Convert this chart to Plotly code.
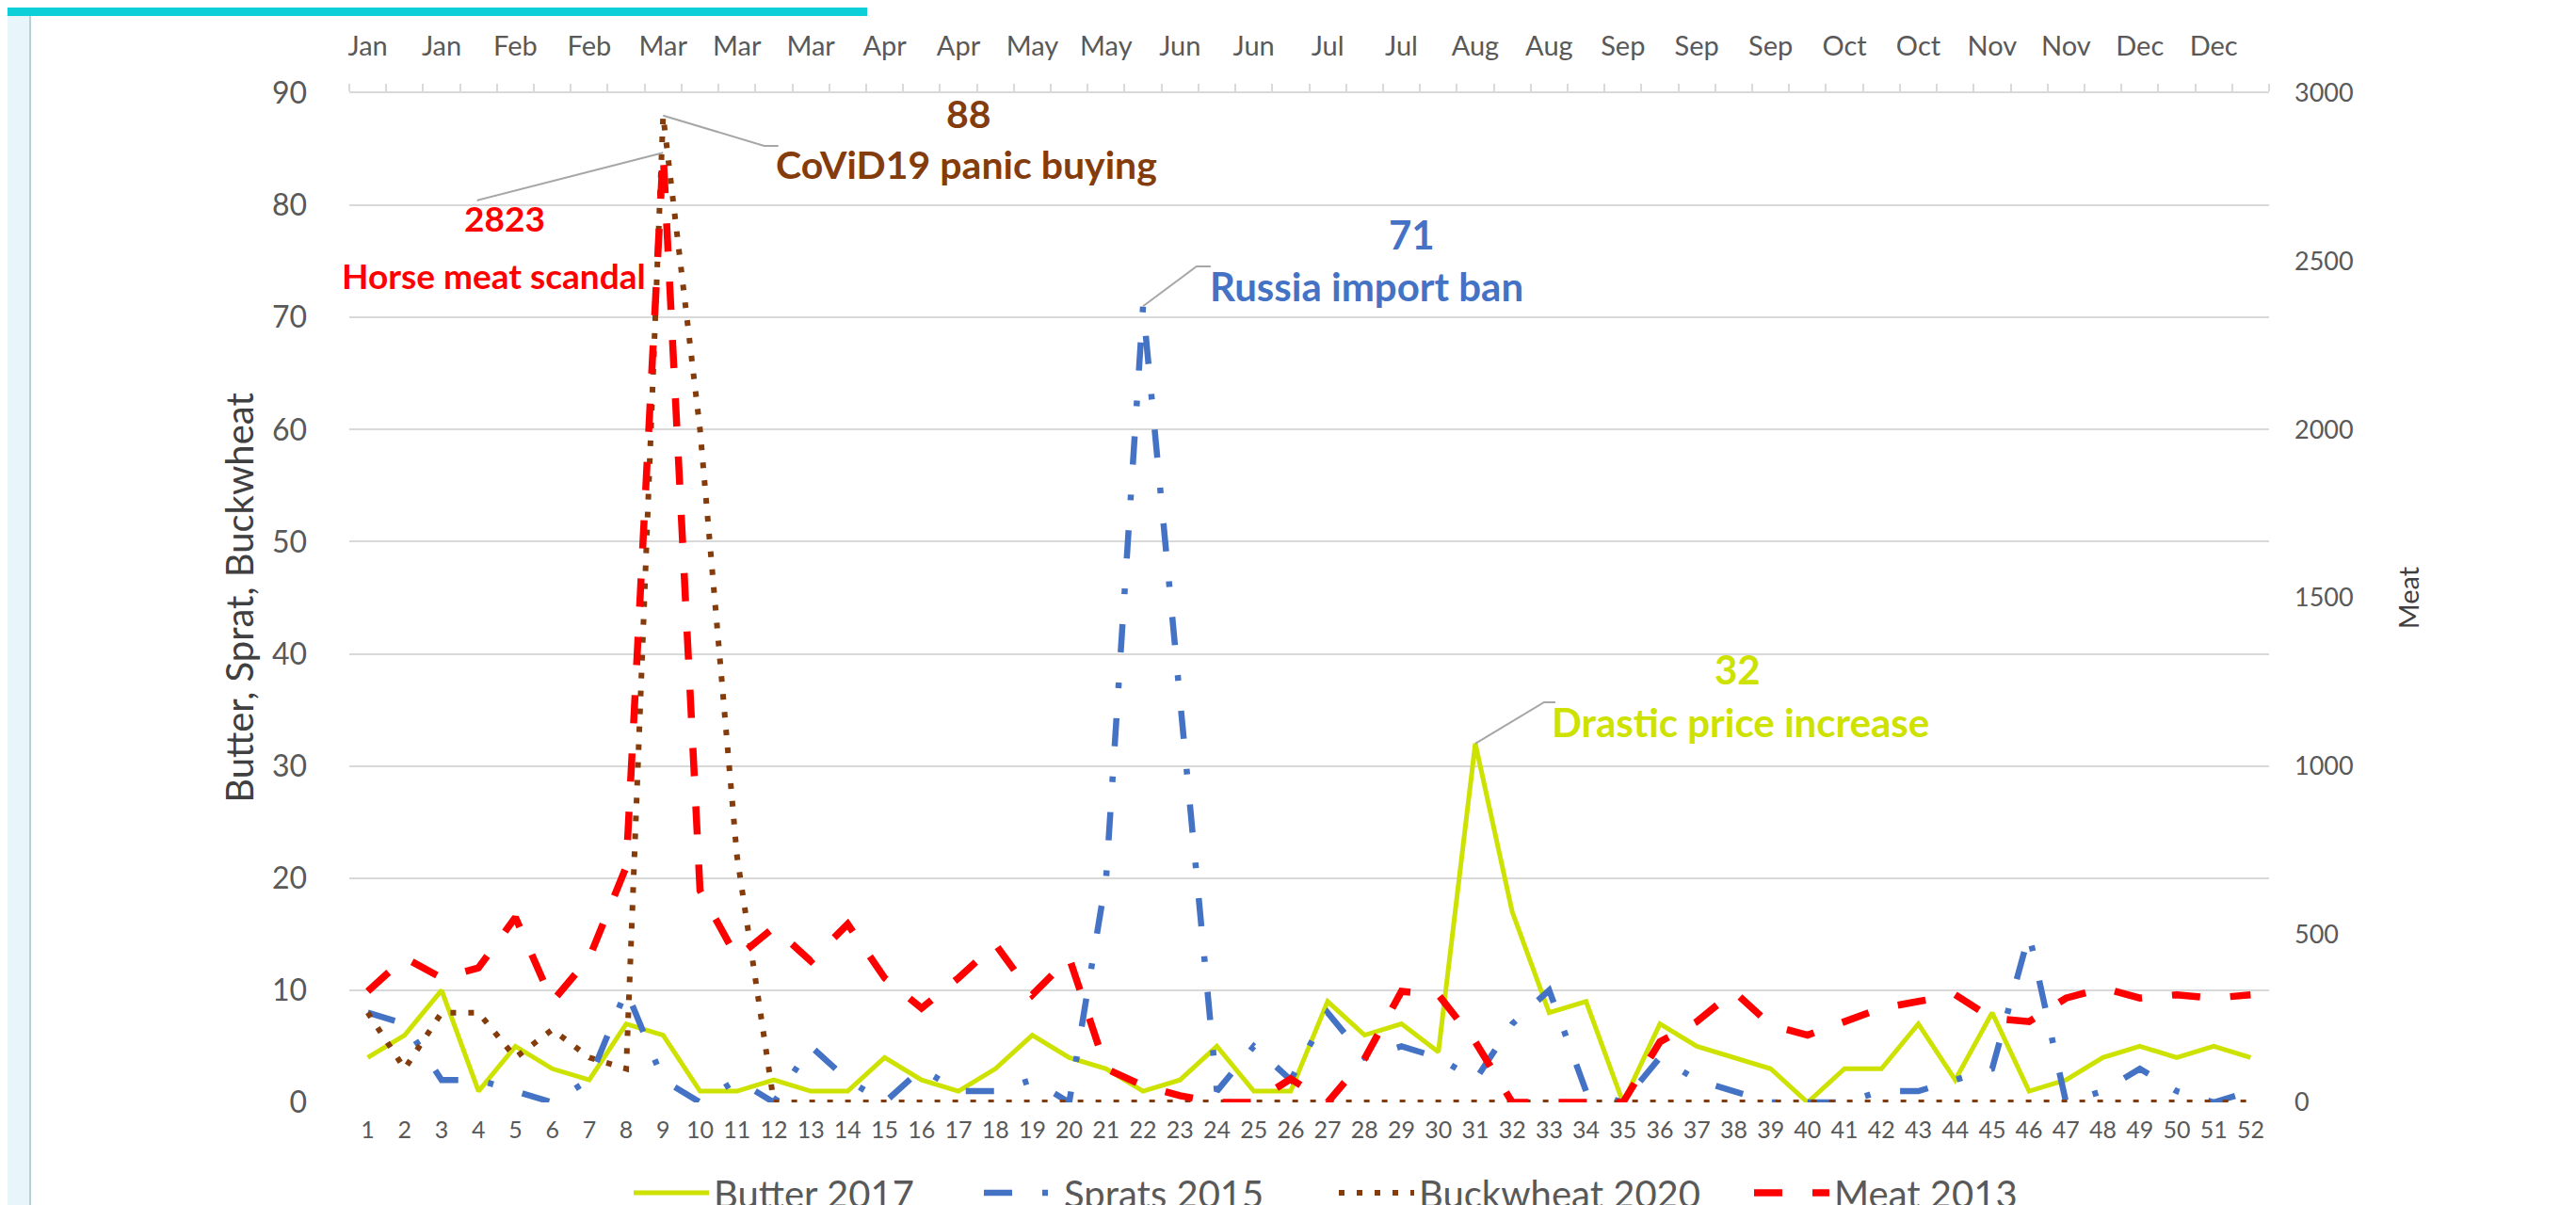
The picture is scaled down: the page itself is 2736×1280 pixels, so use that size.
import plotly.graph_objects as go

# ---------------- data ----------------
weeks = list(range(1, 53))
month_labels = ["Jan", "Jan", "Feb", "Feb", "Mar", "Mar", "Mar", "Apr", "Apr", "May", "May", "Jun", "Jun",
                "Jul", "Jul", "Aug", "Aug", "Sep", "Sep", "Sep", "Oct", "Oct", "Nov", "Nov", "Dec", "Dec"]
month_weeks = [1, 3, 5, 7, 9, 11, 13, 15, 17, 19, 21, 23, 25, 27, 29, 31, 33, 35, 37, 39, 41, 43, 45, 47, 49, 51]

butter_2017 = [4, 6, 10, 1, 5, 3, 2, 7, 6, 1, 1, 2, 1, 1, 4, 2, 1, 3, 6, 4,
               3, 1, 2, 5, 1, 1, 9, 6, 7, 4.5, 32, 17, 8, 9, 0, 7, 5, 4, 3, 0,
               3, 3, 7, 2, 8, 1, 2, 4, 5, 4, 5, 4]
sprats_2015 = [8, 7, 2, 2, 1, 0, 2, 10, 2, 0, 2, 0, 5, 2, 0, 3, 1, 1, 2, 0,
               20, 71, 36, 1, 5, 2, 8, 4, 5, 4, 2, 7, 10, 1, 0, 4, 2, 1, 0, 0,
               0, 1, 1, 2, 3, 15, 0, 1, 3, 1, 0, 1]
buckwheat_2020 = [8, 3, 8, 8, 4, 6.5, 4, 3, 88, 60, 22, 0, 0, 0, 0, 0, 0, 0, 0, 0,
                  0, 0, 0, 0, 0, 0, 0, 0, 0, 0, 0, 0, 0, 0, 0, 0, 0, 0, 0, 0,
                  0, 0, 0, 0, 0, 0, 0, 0, 0, 0, 0, 0]
meat_2013 = [330, 430, 370, 400, 550, 300, 430, 700, 2823, 630, 430, 520, 420, 530, 370, 280, 370, 470, 320, 430,
             100, 50, 20, 0, 0, 70, 0, 130, 330, 320, 180, 0, 0, 0, 0, 180, 240, 330, 230, 200,
             240, 280, 300, 320, 250, 240, 310, 340, 310, 320, 310, 320]

events = {
    "Meat 2013": "Horse meat scandal",
    "Buckwheat 2020": "CoViD19 panic buying",
    "Sprats 2015": "Russia import ban",
    "Butter 2017": "Drastic price increase",
}

# ---------------- style ----------------
W, H = 2736, 1280
L, R, T, B = 363, 334, 91, 117
PW, PH = W - L - R, H - T - B

LIME = "#cde200"
BLUE = "#4472c4"
BROWN = "#843c0c"
RED = "#ff0000"
GRID = "#d9d9d9"
GRAY = "#595959"
DARK = "#404040"
LEAD = "#a6a6a6"
FONT = "Lato, Liberation Sans, sans-serif"


def px_x(X):
    return (X - L) / PW


def px_y(Y):
    return (H - B - Y) / PH


def wk(X):  # pixel -> week coordinate
    return 1 + (X - 383) / 39.2


def lv(Y):  # pixel -> left-axis value
    return (1163 - Y) / 11.91


fig = go.Figure()
fig.add_trace(go.Scatter(x=weeks, y=butter_2017, name="Butter 2017", mode="lines", legendwidth=277,
                         line=dict(color=LIME, width=5)))
fig.add_trace(go.Scatter(x=weeks, y=sprats_2015, name="Sprats 2015", mode="lines", legendwidth=282,
                         line=dict(color=BLUE, width=6.5, dash="30px,32px,6px,32px")))
fig.add_trace(go.Scatter(x=weeks, y=buckwheat_2020, name="Buckwheat 2020", mode="lines", legendwidth=346,
                         line=dict(color=BROWN, width=6, dash="6px,13px")))
fig.add_trace(go.Scatter(x=weeks, y=meat_2013, name="Meat 2013", mode="lines", yaxis="y2", legendwidth=230,
                         line=dict(color=RED, width=7.5, dash="30px,32px")))
# invisible carriers so the two top (month / week-boundary) axes are drawn
for ax in ("x2", "x3"):
    fig.add_trace(go.Scatter(x=weeks, y=butter_2017, xaxis=ax, yaxis="y", mode="lines",
                             line=dict(width=0), opacity=0, showlegend=False, hoverinfo="skip"))

shapes = []
annotations = []

# decorations of the page
shapes.append(dict(type="rect", xref="paper", yref="paper", x0=px_x(0), x1=px_x(913),
                   y0=px_y(9), y1=px_y(0), fillcolor="#0ccfd8", line=dict(width=0), layer="above"))
shapes.append(dict(type="rect", xref="paper", yref="paper", x0=px_x(0), x1=px_x(23),
                   y0=px_y(1280), y1=px_y(9), fillcolor="#e8f5fa", line=dict(width=0)))
shapes.append(dict(type="line", xref="paper", yref="paper", x0=px_x(24), x1=px_x(24),
                   y0=px_y(1280), y1=px_y(9), line=dict(color="#b9cfd6", width=2)))


def callout(series, name, color, yref, num_xy, txt_xy, size, lead_end, lead_hor):
    i = series.index(max(series))
    xw, yv = weeks[i], series[i]
    (ex, ey) = lead_end
    ey_val = lv(ey) * 3000 / 90 if yref == "y2" else lv(ey)
    path = f"M {xw},{yv} L {wk(ex)},{ey_val}"
    if lead_hor:
        path += f" L {wk(lead_hor)},{ey_val}"
    shapes.append(dict(type="path", xref="x", yref=yref, path=path, line=dict(color=LEAD, width=2)))
    off = 0.22 * size
    for (tx, ty), txt in ((num_xy, f"{yv:g}"), (txt_xy, events[name])):
        annotations.append(dict(x=wk(tx), y=lv(ty - off), xref="x", yref="y", text=txt,
                                showarrow=False, xanchor="center", yanchor="middle",
                                font=dict(family=FONT, size=size, color=color, weight="bold")))


callout(meat_2013, "Meat 2013", RED, "y2", (528, 232), (517, 293), 37, (499, 205), None)
callout(buckwheat_2020, "Buckwheat 2020", BROWN, "y", (1021, 122), (1019, 176), 41, (804, 147), 819)
callout(sprats_2015, "Sprats 2015", BLUE, "y", (1492, 250), (1444, 305), 42, (1263, 275), 1278)
callout(butter_2017, "Butter 2017", LIME, "y", (1837, 712), (1840, 768), 42, (1632, 738), 1644)

fig.update_layout(
    width=W, height=H,
    margin=dict(l=L, r=R, t=T, b=B, autoexpand=False),
    paper_bgcolor="white", plot_bgcolor="white",
    font=dict(family=FONT, color=GRAY),
    showlegend=True,
    legend=dict(orientation="h", x=px_x(660), xanchor="left", y=px_y(1259), yanchor="middle",
                font=dict(family=FONT, size=40, color=GRAY), itemwidth=80, bgcolor="rgba(0,0,0,0)",
                traceorder="normal"),
    xaxis=dict(range=[0.5, 52.5], tickmode="array", tickvals=weeks, ticktext=[str(w) for w in weeks],
               showgrid=False, zeroline=False, showline=False, ticks="",
               tickfont=dict(size=25, color=GRAY), ticklabelstandoff=12, fixedrange=True),
    xaxis2=dict(overlaying="x", side="top", anchor="y", range=[0.5, 52.5], tickmode="array",
                tickvals=month_weeks, ticktext=month_labels, showgrid=False, zeroline=False,
                showline=False, ticks="", tickfont=dict(size=29, color=GRAY), ticklabelstandoff=33),
    xaxis3=dict(overlaying="x", side="top", anchor="y", range=[0.5, 52.5], tickmode="array",
                tickvals=[w - 0.5 for w in weeks] + [52.5], ticks="outside", ticklen=8, tickwidth=2,
                tickcolor=GRID, showticklabels=False, showline=True, linecolor=GRID, linewidth=2,
                showgrid=False, zeroline=False),
    yaxis=dict(range=[0, 90], tick0=0, dtick=10, gridcolor=GRID, gridwidth=2, zeroline=False,
               showline=False, ticks="", tickfont=dict(size=32, color=GRAY), ticklabelstandoff=44,
               title=dict(text="Butter, Sprat, Buckwheat", font=dict(size=40, color=DARK), standoff=6)),
    yaxis2=dict(overlaying="y", side="right", anchor="x", range=[0, 3000], tick0=0, dtick=500,
                showgrid=False, zeroline=False, showline=False, ticks="",
                tickfont=dict(size=27, color=GRAY), ticklabelstandoff=26,
                title=dict(text="Meat", font=dict(size=29, color=DARK), standoff=50)),
    shapes=shapes,
    annotations=annotations,
)

fig.write_html("out.html")
